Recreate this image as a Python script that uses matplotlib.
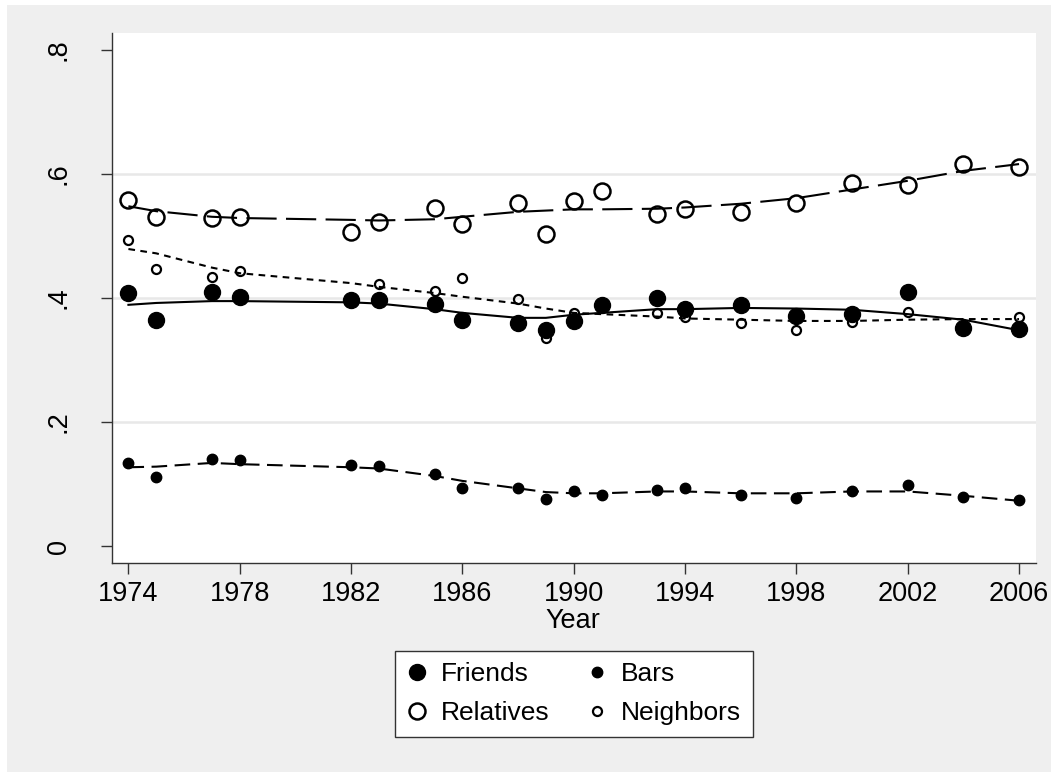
import matplotlib
matplotlib.use("Agg")
import matplotlib.pyplot as plt
from matplotlib.patches import Rectangle
from matplotlib.lines import Line2D

plt.rcParams['font.family'] = ['Liberation Sans', 'DejaVu Sans']

# Survey years
years = [1974, 1975, 1977, 1978, 1982, 1983, 1985, 1986, 1988, 1989,
         1990, 1991, 1993, 1994, 1996, 1998, 2000, 2002, 2004, 2006]

# Share spending a social evening at least once a month
friends = [0.408, 0.365, 0.409, 0.401, 0.396, 0.396, 0.390, 0.365, 0.360, 0.348,
           0.363, 0.389, 0.400, 0.383, 0.388, 0.371, 0.375, 0.410, 0.351, 0.350]
relatives = [0.558, 0.530, 0.529, 0.530, 0.507, 0.523, 0.545, 0.519, 0.553, 0.504,
             0.556, 0.573, 0.536, 0.543, 0.539, 0.553, 0.585, 0.582, 0.616, 0.612]
bars = [0.134, 0.111, 0.141, 0.138, 0.130, 0.129, 0.116, 0.093, 0.094, 0.076,
        0.089, 0.083, 0.091, 0.093, 0.082, 0.077, 0.089, 0.098, 0.079, 0.074]

nb_years = [1974, 1975, 1977, 1978, 1983, 1985, 1986, 1988, 1989,
            1990, 1993, 1994, 1996, 1998, 2000, 2002, 2006]
neighbors = [0.494, 0.447, 0.434, 0.443, 0.422, 0.411, 0.433, 0.398, 0.335,
             0.376, 0.376, 0.370, 0.360, 0.348, 0.362, 0.378, 0.369]

# Lowess-smoothed trends evaluated at each survey year
friends_fit = [0.389, 0.392, 0.395, 0.395, 0.393, 0.391, 0.382, 0.376, 0.368, 0.368,
               0.373, 0.376, 0.382, 0.382, 0.384, 0.383, 0.381, 0.374, 0.365, 0.348]
relatives_fit = [0.548, 0.540, 0.531, 0.529, 0.526, 0.525, 0.527, 0.531, 0.539, 0.541,
                 0.543, 0.543, 0.544, 0.546, 0.552, 0.561, 0.575, 0.589, 0.605, 0.616]
neighbors_fit = [0.479, 0.472, 0.449, 0.440, 0.424, 0.418, 0.408, 0.402, 0.391, 0.383,
                 0.376, 0.374, 0.370, 0.367, 0.365, 0.363, 0.363, 0.365, 0.366, 0.366]
bars_fit = [0.127, 0.128, 0.134, 0.132, 0.127, 0.125, 0.113, 0.105, 0.093, 0.087,
            0.085, 0.085, 0.088, 0.088, 0.085, 0.085, 0.088, 0.088, 0.081, 0.073]

xticks = [1974, 1978, 1982, 1986, 1990, 1994, 1998, 2002, 2006]
yticks = [0, 0.2, 0.4, 0.6, 0.8]
ytick_labels = ['0', '.2', '.4', '.6', '.8']

W, H = 1051, 772
fig = plt.figure(figsize=(W / 100, H / 100), dpi=100, facecolor='white')
fig.patches.append(Rectangle((7 / W, 0), 1 - 7 / W, 1 - 5 / H, transform=fig.transFigure,
                             facecolor='#efefef', edgecolor='none', zorder=-10))

ax = fig.add_axes([112 / W, 1 - 563 / H, (1036 - 112) / W, (563 - 33) / H])
ax.set_facecolor('white')
ax.set_xlim(1973.41, 2006.61)
ax.set_ylim(-0.0274, 0.8274)

for g in [0.2, 0.4, 0.6]:
    ax.axhline(g, color='#e8e8e8', lw=1.8, zorder=0.5)

lw = 1.5
ax.plot(years, friends_fit, color='black', lw=lw, ls='-', zorder=2)
ax.plot(years, relatives_fit, color='black', lw=lw, ls=(0, (14.5, 4.5)), zorder=2)
ax.plot(years, neighbors_fit, color='black', lw=lw, ls=(0, (3.2, 2.6)), zorder=2)
ax.plot(years, bars_fit, color='black', lw=lw, ls=(0, (7.5, 3.6)), zorder=2)

big, small = 11.5, 7.5
ax.plot(nb_years, neighbors, 'o', ls='none', ms=6.5, mfc='none', mec='black', mew=1.6, zorder=3)
ax.plot(years, bars, 'o', ls='none', ms=small, mfc='black', mec='black', zorder=3)
ax.plot(years, relatives, 'o', ls='none', ms=big, mfc='none', mec='black', mew=1.8, zorder=3)
ax.plot(years, friends, 'o', ls='none', ms=big, mfc='black', mec='black', zorder=4)

for s in ['top', 'right']:
    ax.spines[s].set_visible(False)
for s in ['left', 'bottom']:
    ax.spines[s].set_color('#333333')
    ax.spines[s].set_linewidth(1.0)

ax.set_xticks(xticks)
ax.set_xticklabels([str(x) for x in xticks])
ax.set_yticks(yticks)
ax.set_yticklabels(ytick_labels, rotation=90, va='center')
ax.tick_params(axis='both', direction='out', length=8, width=1.0, color='#333333',
               labelsize=19.5)
ax.tick_params(axis='x', pad=5)
ax.tick_params(axis='y', pad=21)

fig.text(573 / W, 1 - 621 / H, 'Year', ha='center', va='center', fontsize=19.5)

handles = [
    Line2D([], [], marker='o', ls='none', ms=big, mfc='black', mec='black'),
    Line2D([], [], marker='o', ls='none', ms=big, mfc='none', mec='black', mew=1.8),
    Line2D([], [], marker='o', ls='none', ms=small, mfc='black', mec='black'),
    Line2D([], [], marker='o', ls='none', ms=6.5, mfc='none', mec='black', mew=1.6),
]
labels = ['Friends', 'Relatives', 'Bars', 'Neighbors']
leg = fig.legend(handles, labels, ncol=2, loc='center',
                 bbox_to_anchor=(573.7 / W, 1 - 693.7 / H), fontsize=19,
                 frameon=True, fancybox=False, edgecolor='#333333', framealpha=1,
                 handlelength=0.8, handletextpad=0.5, columnspacing=1.4,
                 labelspacing=0.55, borderpad=0.45, borderaxespad=0)
leg.get_frame().set_linewidth(1.0)

fig.savefig('out.png', dpi=100, facecolor=fig.get_facecolor())
